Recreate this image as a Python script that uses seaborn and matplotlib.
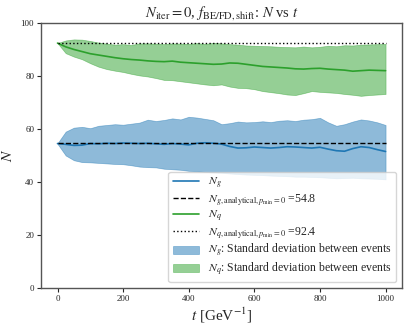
import matplotlib
matplotlib.use("Agg")
import matplotlib.pyplot as plt
import seaborn as sns
import numpy as np

# time grid [GeV^-1]
t = np.arange(0, 1001, 25)

# N_q (quarks): mean and +/- std band
nq_mean = [92.4, 91.0, 90.0, 89.2, 88.4, 87.9, 87.4, 86.9, 86.5, 86.2, 86.0,
           85.7, 85.5, 85.4, 85.6, 85.2, 85.0, 84.8, 84.6, 84.4, 84.5, 84.9,
           84.8, 84.4, 84.0, 83.6, 83.4, 83.2, 83.0, 82.7, 82.6, 82.8, 82.9,
           82.6, 82.4, 82.2, 81.8, 82.0, 82.2, 82.1, 82.0]
nq_upper = [92.4, 93.4, 93.8, 93.7, 93.2, 92.6, 92.2, 91.8, 92.0, 91.7, 92.3,
            92.3, 92.2, 92.0, 92.3, 92.2, 92.1, 92.4, 92.1, 92.5, 92.3, 92.0,
            91.8, 91.5, 91.4, 91.3, 91.2, 91.0, 90.9, 90.8, 91.1, 90.8, 91.0,
            91.4, 91.2, 91.6, 91.5, 91.8, 91.9, 92.0, 92.1]
nq_lower = [92.4, 88.6, 87.3, 86.3, 84.8, 83.5, 82.6, 82.0, 81.5, 80.8, 80.2,
            79.8, 79.2, 78.5, 78.4, 78.0, 77.6, 77.2, 76.8, 76.5, 76.8, 76.0,
            75.5, 75.4, 75.0, 74.3, 73.9, 73.5, 73.0, 72.8, 73.5, 74.3, 74.0,
            73.8, 73.6, 73.2, 72.9, 72.5, 72.8, 73.0, 73.2]

# N_g (gluons): mean and +/- std band
ng_mean = [54.5, 54.2, 53.8, 53.9, 54.5, 54.4, 54.6, 54.5, 54.7, 54.6, 54.5,
           54.6, 54.4, 54.2, 54.5, 54.3, 54.0, 54.6, 54.8, 54.6, 54.3, 53.4,
           52.8, 52.9, 53.2, 53.0, 52.8, 53.0, 53.3, 53.2, 53.0, 52.8, 53.1,
           52.4, 51.8, 51.6, 52.6, 53.3, 53.0, 52.2, 51.5]
ng_upper = [54.6, 59.0, 60.5, 60.8, 60.3, 61.2, 61.5, 61.8, 61.6, 62.0, 62.4,
            63.5, 63.0, 63.4, 64.0, 63.6, 64.6, 64.3, 63.8, 63.3, 61.8, 62.2,
            62.8, 62.5, 62.6, 62.9, 62.6, 63.1, 63.3, 63.0, 63.5, 63.7, 64.2,
            62.5, 61.2, 61.8, 62.8, 63.6, 63.2, 62.5, 61.5]
ng_lower = [54.4, 50.0, 48.2, 47.5, 47.4, 47.2, 47.0, 46.8, 46.7, 46.3, 45.8,
            45.6, 45.5, 45.0, 44.8, 44.6, 44.2, 44.0, 43.8, 43.6, 43.5, 43.2,
            43.0, 42.8, 42.7, 42.6, 42.4, 42.3, 42.2, 42.0, 42.0, 41.9, 41.8,
            41.6, 41.4, 41.5, 41.6, 41.4, 41.3, 41.2, 41.0]

# analytical values (p_min = 0)
ng_analytic = 54.8
nq_analytic = 92.4

sns.set_theme(style="ticks")
plt.rcParams['font.family'] = ['Liberation Serif', 'DejaVu Serif']
plt.rcParams['mathtext.fontset'] = 'stix'

fig, ax = plt.subplots(figsize=(4.11, 3.28), dpi=100)
fig.subplots_adjust(left=0.1, right=0.978, top=0.93, bottom=0.122)

blue = "#1f77b4"
green = "#2ca02c"

sns.lineplot(x=t, y=ng_mean, color=blue, lw=1.2, ax=ax, label=r"$N_g$")
ax.plot(t, np.full(len(t), ng_analytic), color="black", ls="--", lw=1.0,
        label=r"$N_{g,\mathrm{analytical},p_\mathrm{min}=0}$ =" + f"{ng_analytic}")
sns.lineplot(x=t, y=nq_mean, color=green, lw=1.2, ax=ax, label=r"$N_q$")
ax.plot(t, np.full(len(t), nq_analytic), color="black", ls=":", lw=1.0,
        label=r"$N_{q,\mathrm{analytical},p_\mathrm{min}=0}$ =" + f"{nq_analytic}")

ax.fill_between(t, ng_lower, ng_upper, color=blue, alpha=0.5, lw=0.5,
                label=r"$N_g$: Standard deviation between events")
ax.fill_between(t, nq_lower, nq_upper, color=green, alpha=0.5, lw=0.5,
                label=r"$N_q$: Standard deviation between events")

ax.set_ylim(0, 100)
ax.set_xlim(-50, 1050)
ax.set_xticks([0, 200, 400, 600, 800, 1000])
ax.set_yticks([0, 20, 40, 60, 80, 100])
ax.tick_params(labelsize=6.5, length=3, width=0.8, pad=2)
for s in ax.spines.values():
    s.set_color("#555555")
    s.set_linewidth(1.0)

ax.set_title(r"$N_\mathrm{iter}=0$, $f_\mathrm{BE/FD,shift}$: $N$ vs $t$", fontsize=10.5, pad=5)
ax.set_xlabel(r"$t$ [GeV$^{-1}$]", fontsize=11, labelpad=2)
ax.set_ylabel(r"$N$", fontsize=11)

ax.legend(loc="lower right", fontsize=8.5, handlelength=2.2, borderpad=0.35,
          labelspacing=0.12, framealpha=0.8)

fig.savefig("out.png", dpi=100)
